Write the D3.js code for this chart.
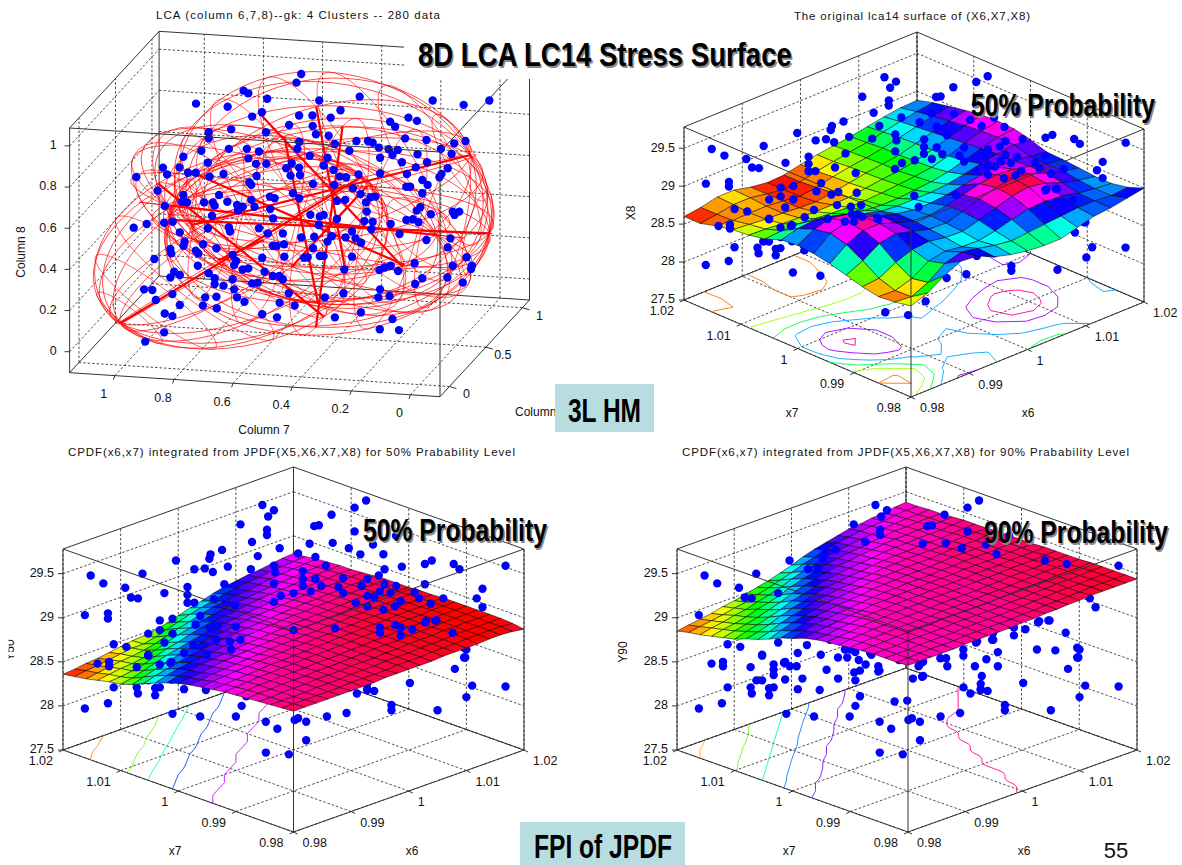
<!DOCTYPE html>
<html>
<head>
<meta charset="utf-8">
<script src="https://d3js.org/d3.v7.min.js"></script>
<style>
  html, body { margin: 0; background: #fff; }
  text { font-family: "Liberation Sans", Arial, sans-serif; fill: #111; }
  .big { font-family: "Liberation Sans Narrow", "Liberation Sans", sans-serif; font-weight: bold; }
</style>
</head>
<body>
<svg id="chart" width="1182" height="865"></svg>
<script>
const x6Ticks = [0.98, 0.99, 1, 1.01, 1.02];
const x7Ticks = [0.98, 0.99, 1, 1.01, 1.02];
const zTicks = [27.5, 28, 28.5, 29, 29.5];
const col7Ticks = [0, 0.2, 0.4, 0.6, 0.8, 1];
const col6Ticks = [0, 0.5, 1];
const col8Ticks = [0, 0.2, 0.4, 0.6, 0.8, 1];

// surface heights, hundredths above 28. rows run x7 = 1.02 -> 0.98, columns x6 = 0.98 -> 1.02
const surfaceLca = [
  [60,63,68,68,63,60,61,66,70,73,76,80,84,87,88],
  [60,63,67,67,63,60,61,66,70,74,77,82,87,91,94],
  [66,64,65,65,63,60,63,68,72,75,79,84,89,94,98],
  [70,68,66,65,63,62,65,69,73,76,79,85,91,97,102],
  [72,71,69,68,67,67,68,71,74,76,80,86,93,100,105],
  [76,78,78,76,74,73,73,74,76,78,81,87,95,102,106],
  [84,90,92,88,82,78,76,76,78,80,84,90,97,103,105],
  [86,98,104,100,92,86,84,84,84,86,90,95,99,102,100],
  [84,102,108,106,98,92,88,88,90,94,98,100,99,96,93],
  [80,96,106,106,98,92,90,94,99,105,108,106,101,95,92],
  [74,84,98,102,96,90,89,95,103,109,112,109,101,95,90],
  [68,70,82,90,92,88,87,93,100,107,110,106,98,92,88],
  [64,63,70,84,88,85,84,88,94,99,100,98,93,90,88],
  [66,64,74,90,96,92,87,84,86,88,90,92,92,90,92],
  [70,78,92,102,100,90,84,80,78,78,84,90,92,96,100]
];
const surface50 = [
  [36,37,39,40,42,44,46,47,49,52,56,60,63,67,70,72,74,75,77,79,80],
  [38,40,41,43,45,47,47,50,54,58,62,65,68,71,73,75,76,78,79,80,81],
  [40,42,44,46,47,49,52,56,60,63,67,70,72,74,75,77,79,80,81,82,83],
  [43,45,47,48,50,54,58,62,65,68,71,73,75,76,78,79,80,81,82,83,84],
  [46,47,49,52,56,60,63,67,70,72,74,75,77,79,80,81,82,83,84,84,85],
  [48,50,54,58,62,65,68,71,73,75,76,78,79,80,81,82,83,84,84,85,85],
  [52,56,60,63,67,70,72,74,75,77,79,80,81,82,83,84,84,85,85,86,86],
  [58,62,65,68,71,73,75,76,78,79,80,81,82,83,84,84,85,85,86,86,87],
  [63,67,70,72,74,75,77,79,80,81,82,83,84,84,85,85,86,86,87,87,88],
  [68,71,73,75,76,78,79,80,81,82,83,84,84,85,85,86,86,87,87,88,88],
  [72,74,75,77,79,80,81,82,83,84,84,85,85,86,86,87,87,88,88,88,88],
  [75,76,78,79,80,81,82,83,84,84,85,85,86,86,87,87,88,88,88,89,89],
  [77,79,80,81,82,83,84,84,85,85,86,86,87,87,88,88,88,89,89,89,89],
  [79,80,81,82,83,84,84,85,85,86,86,87,87,88,88,88,89,89,89,90,90],
  [81,82,83,84,84,85,85,86,86,86,87,87,88,88,88,89,89,89,90,90,90],
  [82,83,84,84,85,85,85,86,86,86,87,87,88,88,89,89,89,90,90,90,90],
  [83,84,84,85,85,85,86,86,86,87,87,88,88,88,89,89,89,90,90,90,90],
  [84,84,85,85,85,86,86,86,87,87,87,88,88,89,89,89,90,90,90,90,90],
  [85,85,85,85,86,86,86,87,87,87,88,88,88,89,89,89,90,90,90,90,90],
  [86,86,86,86,86,86,87,87,87,87,88,88,88,89,89,89,90,90,90,90,89],
  [87,87,87,87,87,87,87,87,88,88,88,88,88,89,89,89,89,90,90,89,87]
];
const surface90 = [
  [85,87,89,91,94,96,99,102,105,109,113,118,122,125,128,131,132,134,135,137,138],
  [88,90,92,94,97,99,103,106,110,114,119,122,126,129,131,133,134,135,137,138,138],
  [90,93,95,98,100,104,107,111,116,120,123,127,130,131,133,134,136,137,138,138,139],
  [93,96,98,101,105,108,112,117,121,124,128,130,132,133,135,136,138,138,139,139,139],
  [96,99,102,105,109,113,118,122,125,128,131,132,134,135,137,138,138,139,139,139,140],
  [99,103,106,110,114,119,122,126,129,131,133,134,135,137,138,138,139,139,139,140,141],
  [104,107,111,116,120,123,127,130,131,133,134,136,137,138,138,139,139,139,140,141,141],
  [108,112,117,121,124,128,130,132,133,135,136,138,138,139,139,139,139,140,141,141,141],
  [113,118,122,125,128,131,132,134,135,137,138,138,139,139,139,140,141,141,141,142,142],
  [119,122,126,129,131,133,134,135,137,138,138,139,139,139,140,141,141,141,141,142,142],
  [123,127,130,131,133,134,136,137,138,138,139,139,139,140,140,141,141,141,141,142,142],
  [128,130,132,133,135,136,138,138,139,139,139,140,140,140,141,141,141,141,142,142,142],
  [131,132,134,135,137,138,138,139,139,139,140,140,140,140,141,141,141,142,142,142,143],
  [133,134,135,137,138,138,139,139,139,140,140,140,140,141,141,141,142,142,142,143,143],
  [134,136,137,138,138,139,139,139,139,140,140,140,140,141,141,142,142,142,143,143,143],
  [136,137,138,138,139,139,139,139,140,140,140,140,141,141,141,142,142,143,143,143,143],
  [137,138,138,139,139,139,139,140,140,140,140,140,141,141,142,142,142,143,143,143,144],
  [138,138,138,139,139,139,139,140,140,140,140,140,141,141,142,142,143,143,143,144,144],
  [138,138,138,139,139,139,139,140,140,140,140,141,141,142,142,143,143,143,144,144,144],
  [138,138,139,139,139,139,140,140,140,140,140,141,141,142,142,143,143,144,144,144,144],
  [139,139,139,139,139,140,140,140,140,140,141,141,142,142,143,143,144,144,144,144,144]
];
const levelsLca = [64, 72, 80, 89, 100, 107];
const levels50 = [41, 50, 60, 70, 79];
const levels90 = [90, 100, 110, 120, 130, 140.5];

// test points as read on the mid plane of the box: [x6, height]
const cloud = [
[.9973,30.28],[.9978,30.15],[.9983,30.22],[.9954,30.06],[.9977,30.00],[.9977,29.94],[.9964,29.86],[.9988,29.79],[.9969,29.70],[.9938,29.77],
[.9928,29.72],[.9927,29.67],[.9923,29.56],[.9930,29.52],[.9943,29.58],[.9914,29.55],[.9898,29.65],[.9869,29.50],[.9824,29.48],[.9835,29.39],
[.9854,29.34],[.9859,29.23],[.9865,29.22],[.9888,29.28],[.9819,29.03],[.9839,29.05],[.9839,28.99],[.9908,29.35],[.9908,29.26],[.9908,29.17],
[.9914,29.17],[.9895,28.99],[.9884,28.97],[.9884,28.86],[.9874,28.82],[.9895,28.82],[.9844,28.70],[.9855,28.67],
[1.0018,30.04],[1.0022,30.05],[1.0033,30.17],[1.0053,30.25],[1.0063,30.33],[1.0053,29.98],[1.0089,29.93],[1.0014,29.84],[1.0034,29.85],[1.0048,29.79],
[1.0069,29.83],[1.0058,29.72],[1.0078,29.72],[1.0019,29.69],[1.0004,29.73],[1.0028,29.59],[1.0094,29.58],[1.0079,29.55],[1.0114,29.61],[1.0120,29.65],
[1.0139,29.61],[1.0144,29.55],[1.0184,29.59],[1.0114,29.38],[1.0164,29.33],[1.0159,29.22],[1.0164,29.12],[.9983,29.59],[.9984,29.52],[.9963,29.55],
[.9983,29.39],[1.0008,29.53],[1.0008,29.44],[1.0019,29.44],[1.0008,29.36],[1.0015,29.30],[1.0000,29.28],[.9989,29.25],[.9983,29.18],[1.0024,29.36],
[1.0039,29.35],[1.0043,29.45],[1.0064,29.44],[1.0059,29.36],[1.0074,29.48],[1.0079,29.38],[1.0089,29.36],[1.0075,29.30],[1.0084,29.28],[1.0105,29.29],
[1.0043,29.28],[1.0064,29.25],[1.0054,29.17],[1.0070,29.23],[1.0064,29.13],[1.0078,29.09],[1.0088,29.13],[1.0093,29.19],[1.0109,29.22],[1.0119,29.16],[1.0130,29.22],
[1.0115,28.96],[1.0124,28.97],[1.0088,28.92],[1.0093,28.89],[1.0075,28.89],[1.0075,28.83],[1.0075,28.75],[1.0061,28.73],[1.0036,28.88],[1.0031,28.67],
[1.0000,28.86],[1.0004,28.73],[.9984,28.58],[.9993,28.52],[1.0011,28.47],[1.0014,28.34],[.9976,28.40],[.9968,28.60],[1.0065,28.34],
[.9940,29.38],[.9949,29.14],[.9931,29.21],[.9915,28.92],[.9919,29.02],[.9928,28.88],[.9934,28.91],[.9950,28.90],[.9933,28.75],[.9945,28.73],
[.9913,28.69],[.9925,28.58],[.9905,28.60],[.9884,28.41],[.9874,28.57],[.9888,28.72],[.9894,28.50],[.9954,28.75],[.9951,28.64],
[.9844,28.21],[.9864,28.21],[.9865,28.14],[.9880,28.20],[.9880,28.12],[.9884,28.21],[.9905,28.19],[.9924,28.18],[.9959,28.11],[.9895,27.91],
[.9919,27.88],[.9950,27.88],[.9955,28.00],[.9976,27.82],[.9986,27.74],[.9976,27.47],[.9996,27.45],[1.0011,27.82],[1.0011,27.61],[1.0004,27.86],
[1.0001,27.84],[1.0029,27.88],[1.0046,27.92],[1.0055,28.14],[1.0064,28.19],[1.0070,28.17],[1.0085,28.01],[1.0085,27.95],[1.0125,27.95],[1.0150,28.10],
[1.0155,28.23],[1.0184,28.22],[1.0140,28.42],[1.0149,28.55],[1.0150,28.64],[1.0101,28.26],[.9819,27.97],[.9839,28.03],
[.9830,28.48],[.9840,28.50],[.9840,28.45],[.9874,28.58],[.9864,28.44],[.9884,28.47],[.9884,28.35],[.9893,28.49],[.9898,28.45],[.9904,28.45],
[.9940,28.55],[.9930,28.41],[.9940,28.31],[.9948,28.55],[.9946,28.64],[.9955,28.61],[.9958,28.52],[.9964,28.47],[.9954,28.38],[.9959,28.40],
[.9955,28.29],[.9975,28.45],[.9975,28.39],[.9969,28.58],[1.0005,28.31],[1.0013,28.33],[1.0010,28.45],[1.0014,28.50],[1.0029,28.54],[1.0034,28.54],
[1.0035,28.45],[1.0049,28.57],[1.0049,28.64],[1.0059,28.45],[1.0069,28.53],[1.0079,28.45],[1.0079,28.61],[1.0060,28.72],[1.0074,28.75],[1.0093,28.80],
[1.0103,28.87],[1.0114,28.95],[1.0123,28.97],[1.0138,28.83],[1.0113,28.64],[1.0129,28.63],[1.0148,28.66],[1.0148,28.55],[1.0064,28.25],[1.0064,28.18],
[1.0049,28.21],[.9869,28.29],[.9874,28.29],[.9894,28.30],[.9909,28.31],[.9989,28.05],[1.0000,28.06]
];

// LCA scatter: [column 7, column 8]
const lcaPoints = [
[.369,1.350],[.385,1.308],[.564,1.269],[.548,1.256],[.484,1.230],[.725,1.206],[.618,1.191],[.171,1.240],[.308,1.221],[-.076,1.221],[-.181,1.200],[-.268,1.221],
[.236,1.174],[.502,1.164],[.535,1.143],[.376,1.148],[.331,1.148],[.269,1.138],[.068,1.118],[.006,1.138],[-.023,1.122],[.051,1.094],[.410,1.102],[.330,1.097],
[.606,1.081],[.488,1.067],[.682,1.067],[.319,1.057],[.276,1.050],[.682,1.037],[.017,1.037],[-.055,1.029],[-.187,1.024],[-.149,1.013],[.376,1.021],[.255,1.010],
[.182,1.024],[.143,1.024],[.127,1.016],[.106,.992],[.073,.984],[.042,.981],[-.104,.986],[.614,.986],[.707,.977],[.553,.986],[.512,.973],[.382,.986],[.206,.977],
[-.140,.961],[-.025,.960],[.060,.956],[.768,.948],[.548,.940],[.340,.953],[.280,.943],[.102,.943],[.028,.921],[-.057,.921],[.685,.919],[.522,.913],[.487,.913],
[.401,.916],[.420,.892],[.376,.895],[.293,.905],[.260,.883],[-.019,.896],[-.127,.892],[.837,.895],[.781,.896],[.823,.862],[.752,.870],[.726,.870],[.632,.864],
[.520,.854],[.679,.851],[.405,.856],[.373,.859],[.238,.851],[.217,.848],[.175,.862],[.102,.867],[.011,.864],[-.106,.864],[-.099,.848],[-.041,.835],[-.059,.811],
[.927,.849],[.545,.823],[.329,.815],[.257,.811],[.194,.794],[.013,.802],[0,.802],[-.041,.770],[.855,.783],[.538,.811],[.647,.762],[.475,.754],[.459,.746],[.397,.770],
[.376,.746],[.168,.767],[.134,.751],[.118,.754],[.768,.762],[.773,.729],[.755,.726],[.698,.726],[.668,.726],[.619,.729],[.538,.738],[.248,.733],[.220,.738],[.150,.726],
[.831,.708],[.662,.710],[.586,.713],[.567,.705],[.527,.705],[.474,.694],[-.034,.702],[-.022,.686],[-.144,.681],[-.166,.681],[-.150,.665],[-.070,.668],[.147,.681],
[.583,.686],[.338,.666],[.306,.657],[.293,.665],[.671,.661],[.936,.603],[.892,.621],[.833,.627],[.804,.632],[.310,.616],[.248,.645],[.464,.648],[.013,.640],[-.009,.644],
[-.028,.629],[.155,.635],[.127,.632],[.131,.595],[.066,.621],[.685,.600],[.614,.605],[.512,.600],[.610,.584],[.780,.580],[.431,.575],[.482,.575],[.197,.584],[.036,.572],
[.325,.559],[.369,.556],[.265,.562],[.219,.556],[.185,.551],[.166,.530],[.280,.535],[-.055,.543],[-.136,.551],[-.127,.507],[.764,.535],[.767,.515],[.701,.522],[.656,.503],
[.812,.499],[.809,.478],[.726,.491],[.717,.478],[.465,.515],[.452,.514],[.427,.522],[.329,.503],[.601,.470],[.866,.451],[.426,.462],[.501,.457],[.359,.457],[.347,.459],
[.306,.465],[.293,.465],[.197,.462],[-.191,.459],[-.015,.430],[-.144,.418],[-.209,.418],[-.206,.402],[.589,.441],[.596,.421],[.719,.418],[.223,.400],[.066,.418],[.087,.409],
[.104,.397],[.041,.392],[-.041,.357],[-.017,.329],[-.126,.361],[-.178,.336],[.799,.389],[.812,.361],[.780,.373],[.682,.381],[.567,.400],[.548,.405],[.493,.389],[.465,.368],
[.443,.368],[.431,.352],[.662,.357],[.601,.352],[.662,.329],[.632,.321],[.535,.332],[.516,.336],[.596,.303],[.411,.284],[.901,.303],[.873,.300],[.805,.280],[.861,.251],
[.694,.264],[.656,.267],[.586,.264],[.561,.243],[.289,.264],[.226,.284],[.102,.303],[.108,.264],[.070,.271],[.780,.227],[.702,.224],[.655,.211],[.442,.238],[.391,.224],
[.831,.186],[.805,.173],[.501,.182],[.451,.167],[.255,.167],[.167,.191],[.060,.159],[.103,.109],[.038,.105],[.833,.094],[.897,.049]
];

// four clusters: centre and three axis ends, each as [column 7, column 8]
const clusterCentres = [[.573,.494],[.268,.786],[.274,.608],[.369,.640]];
const clusterAxisA = [[.981,.138],[-.204,.956],[-.268,.575],[.828,.713]];
const clusterAxisB = [[.854,.818],[.510,1.159],[.229,1.097],[.019,.421]];
const clusterAxisC = [[.497,.543],[.318,1.191],[.401,.413],[.312,.235]];

const svg = d3.select("#chart");

function makeProjection(box, aScale, bScale, zDomain) {
  // affine view: a runs to the left corner, b to the right corner, z straight up
  const aX = d3.scaleLinear(aScale, [0, box.left[0] - box.front[0]]);
  const aY = d3.scaleLinear(aScale, [0, box.left[1] - box.front[1]]);
  const bX = d3.scaleLinear(bScale, [0, box.right[0] - box.front[0]]);
  const bY = d3.scaleLinear(bScale, [0, box.right[1] - box.front[1]]);
  const zY = d3.scaleLinear(zDomain, [0, -box.height]);
  return (a, b, z) => [box.front[0] + aX(a) + bX(b), box.front[1] + aY(a) + bY(b) + zY(z)];
}

function line(g, p, q, cls) {
  const l = g.append("line").attr("x1", p[0]).attr("y1", p[1]).attr("x2", q[0]).attr("y2", q[1]);
  if (cls === "grid") l.attr("stroke", "#222").attr("stroke-width", 0.8).attr("stroke-dasharray", "2.5,2");
  else l.attr("stroke", "#333").attr("stroke-width", 1);
  return l;
}

function drawBack(g, pr, A, B, Z) {
  const [a0, a1] = A.domain, [b0, b1] = B.domain, [z0, z1] = Z.domain;
  A.ticks.forEach(t => {
    line(g, pr(t, b0, z0), pr(t, b1, z0), "grid");
    line(g, pr(t, b1, z0), pr(t, b1, z1), "grid");
    const p = pr(t, b0, z0);
    line(g, p, [p[0] + A.mark[0], p[1] + A.mark[1]]);
  });
  B.ticks.forEach(t => {
    line(g, pr(a0, t, z0), pr(a1, t, z0), "grid");
    line(g, pr(a1, t, z0), pr(a1, t, z1), "grid");
    const p = pr(a0, t, z0);
    line(g, p, [p[0] + B.mark[0], p[1] + B.mark[1]]);
  });
  Z.ticks.forEach(t => {
    line(g, pr(a1, b0, t), pr(a1, b1, t), "grid");
    line(g, pr(a1, b1, t), pr(a0, b1, t), "grid");
    const p = pr(a1, b0, t);
    line(g, p, [p[0] - 5, p[1]]);
  });
  // far edges of the box
  [[[a1, b0, z0], [a1, b1, z0]], [[a1, b1, z0], [a0, b1, z0]], [[a1, b1, z0], [a1, b1, z1]],
   [[a1, b0, z1], [a1, b1, z1]], [[a1, b1, z1], [a0, b1, z1]],
   [[a0, b0, z0], [a1, b0, z0]], [[a0, b0, z0], [a0, b1, z0]],
   [[a1, b0, z0], [a1, b0, z1]], [[a0, b1, z0], [a0, b1, z1]]]
    .forEach(e => line(g, pr(...e[0]), pr(...e[1])));
}

function drawFront(g, pr, A, B, Z) {
  const [a0, a1] = A.domain, [b0, b1] = B.domain, [z0, z1] = Z.domain;
  [[[a0, b0, z0], [a0, b0, z1]], [[a0, b0, z1], [a1, b0, z1]], [[a0, b0, z1], [a0, b1, z1]]]
    .forEach(e => line(g, pr(...e[0]), pr(...e[1])));
}

function drawLabels(g, pr, A, B, Z, zRight) {
  const [a0, a1] = A.domain, [b0, b1] = B.domain;
  const z0 = Z.domain[0];
  const txt = (p, s, anchor) => g.append("text").attr("x", p[0]).attr("y", p[1]).attr("dy", "0.35em")
    .attr("text-anchor", anchor).attr("font-size", 12.5).text(s);
  A.ticks.forEach(t => {
    const p = pr(t, b0, z0);
    txt([p[0] + A.off[0], p[1] + A.off[1]], String(t), A.anchor);
  });
  B.ticks.forEach(t => {
    const p = pr(a0, t, z0);
    txt([p[0] + B.off[0], p[1] + B.off[1]], String(t), B.anchor);
  });
  Z.ticks.forEach(t => {
    const p = pr(a1, b0, t);
    txt([p[0] - zRight, p[1] - 1], String(t), "end");
  });
}

// ---- the three surface panels share the same test points
function placeCloud(d) {
  // a single reading cannot give depth, so high points are pushed to the back of the box
  const u = (d[0] - 1) / 0.02;
  const up = 88 * (d[1] - 27.5);
  const t = (up - 100) / 250 * (1 - Math.abs(u));
  return {
    x6: 0.98 + 0.04 * (u + t + 1) / 2,
    x7: 0.98 + 0.04 * (t - u + 1) / 2,
    z: d[1] - 82 * t / 88
  };
}
const placed = cloud.map(placeCloud);

function surfacePanel(cfg) {
  const g = svg.append("g");
  const heights = cfg.surface, n = heights.length;
  const A = { domain: [0.98, 1.02], ticks: x7Ticks, mark: [-4, 2], off: [-10, 11], anchor: "end" };
  const B = { domain: [0.98, 1.02], ticks: x6Ticks, mark: [4, 2], off: [9, 11], anchor: "start" };
  const Z = { domain: [27.5, 29.78], ticks: zTicks };
  const pr = makeProjection(cfg.box, A.domain, B.domain, Z.domain);
  const hue = d3.scaleLinear(cfg.hueRange, [0, 1]).clamp(true);
  const colour = v => d3.hsl(hue(v) * 360, 1, 0.5).toString();
  const x7At = r => 1.02 - 0.04 * r / (n - 1);
  const x6At = c => 0.98 + 0.04 * c / (n - 1);
  const zAt = v => 28 + v / 100;

  drawBack(g, pr, A, B, Z);

  // floor contours from the same heights, box-edge stretches left out
  const contourLine = d3.line().curve(cfg.curve);
  const contours = d3.contours().size([n, n]).thresholds(cfg.levels)(heights.flat());
  contours.forEach(c => {
    c.coordinates.forEach(poly => poly.forEach(ring => {
      let run = [];
      const flush = () => {
        if (run.length > 1) {
          g.append("path").attr("d", contourLine(run)).attr("fill", "none")
            .attr("stroke", colour(c.value)).attr("stroke-width", 0.9);
        }
        run = [];
      };
      ring.forEach(pt => {
        const edge = pt[0] <= 0 || pt[0] >= n || pt[1] <= 0 || pt[1] >= n;
        if (edge) flush();
        else run.push(pr(x7At(pt[1] - 0.5), x6At(pt[0] - 0.5), 27.5));
      });
      flush();
    }));
  });

  const isAbove = p => {
    const c = Math.max(0, Math.min(n - 1, Math.round((p.x6 - 0.98) / 0.04 * (n - 1))));
    const r = Math.max(0, Math.min(n - 1, Math.round((1.02 - p.x7) / 0.04 * (n - 1))));
    return p.z > zAt(heights[r][c]) - cfg.slack;
  };
  const dots = (list) => g.append("g").selectAll("circle").data(list).join("circle")
    .attr("cx", p => pr(p.x7, p.x6, p.z)[0]).attr("cy", p => pr(p.x7, p.x6, p.z)[1])
    .attr("r", 4.2).attr("fill", "#0000ff");

  dots(placed.filter(p => !isAbove(p)));

  // painter's order, far corner first
  const cells = [];
  for (let r = 0; r < n - 1; r++) for (let c = 0; c < n - 1; c++) cells.push({ r, c, depth: c - r });
  cells.sort((a, b) => b.depth - a.depth);
  g.append("g").selectAll("path").data(cells).join("path")
    .attr("d", ({ r, c }) => {
      const corners = [[r, c], [r, c + 1], [r + 1, c + 1], [r + 1, c]]
        .map(([i, j]) => pr(x7At(i), x6At(j), zAt(heights[i][j])));
      return "M" + corners.join("L") + "Z";
    })
    .attr("fill", ({ r, c }) => colour((heights[r][c] + heights[r][c + 1] + heights[r + 1][c + 1] + heights[r + 1][c]) / 4))
    .attr("stroke", "#000").attr("stroke-width", 0.6).attr("stroke-opacity", 0.85);

  dots(placed.filter(isAbove));
  drawFront(g, pr, A, B, Z);
  drawLabels(g, pr, A, B, Z, 9);
}

surfacePanel({
  surface: surfaceLca, levels: levelsLca, hueRange: [60, 112], slack: 0.18, curve: d3.curveLinear,
  box: { front: [911, 397], left: [684, 300], right: [1144, 302], height: 173 }
});
surfacePanel({
  surface: surface50, levels: levels50, hueRange: [36, 90], slack: 0.15, curve: d3.curveBasis,
  box: { front: [293.5, 832], left: [63, 750], right: [524, 750], height: 201 }
});
surfacePanel({
  surface: surface90, levels: levels90, hueRange: [83, 146], slack: -0.08, curve: d3.curveBasis,
  box: { front: [908, 832], left: [677, 750], right: [1137, 750], height: 201 }
});

// ---- LCA panel
{
  const g = svg.append("g");
  const A = { domain: [-0.1, 1.153], ticks: col7Ticks, mark: [-1.5, 4], off: [-11, 18], anchor: "middle" };
  const B = { domain: [-0.129, 1.098], ticks: col6Ticks, mark: [7, 2], off: [17, 7.5], anchor: "middle" };
  const Z = { domain: [-0.102, 1.087], ticks: col8Ticks };
  const pr = makeProjection({ front: [440, 396.7], left: [69.6, 372.7], right: [529.5, 300], height: 244.7 }, A.domain, B.domain, Z.domain);
  drawBack(g, pr, A, B, Z);

  // points and clusters are read flat against the tick scales
  const sx = d3.scaleLinear([0, 1], [410.2, 114.8]);
  const sy = d3.scaleLinear([0, 1], [351.7, 146]);
  const red = g.append("g").attr("fill", "none").attr("stroke", "#ff0000");
  const curve = d3.line().x(d => sx(d[0])).y(d => sy(d[1]));

  clusterCentres.forEach((c, k) => {
    const a = [clusterAxisA[k][0] - c[0], clusterAxisA[k][1] - c[1]];
    const b = [clusterAxisB[k][0] - c[0], clusterAxisB[k][1] - c[1]];
    const e = [clusterAxisC[k][0] - c[0], clusterAxisC[k][1] - c[1]];
    const at = (th, ph) => [0, 1].map(i =>
      c[i] + a[i] * Math.cos(th) + Math.sin(th) * (b[i] * Math.cos(ph) + e[i] * Math.sin(ph)));
    // meridians pole to pole
    d3.range(0, 16).forEach(m => {
      const ph = m * Math.PI / 8;
      red.append("path").attr("d", curve(d3.range(0, 33).map(s => at(s * Math.PI / 32, ph))))
        .attr("stroke-width", 0.7);
    });
    // parallels
    d3.range(1, 8).forEach(m => {
      const th = m * Math.PI / 8;
      red.append("path").attr("d", curve(d3.range(0, 41).map(s => at(th, s * Math.PI / 20))))
        .attr("stroke-width", 0.6);
    });
    // principal axes
    [a, b, e].forEach(v => {
      red.append("path").attr("d", curve([[c[0] - v[0], c[1] - v[1]], [c[0] + v[0], c[1] + v[1]]]))
        .attr("stroke-width", 2.2);
    });
  });

  g.append("g").selectAll("circle").data(lcaPoints).join("circle")
    .attr("cx", d => sx(d[0])).attr("cy", d => sy(d[1])).attr("r", 4.2).attr("fill", "#0000ff");
  drawFront(g, pr, A, B, Z);
  drawLabels(g, pr, A, B, Z, 13);
}

// ---- titles and axis names
const note = (x, y, s, size, opts = {}) => {
  const t = svg.append("text").attr("x", x).attr("y", y).attr("font-size", size)
    .attr("text-anchor", opts.anchor || "start").text(s);
  if (opts.len) t.attr("textLength", opts.len).attr("lengthAdjust", "spacing");
  if (opts.rotate) t.attr("transform", `rotate(-90,${x},${y})`);
  return t;
};
note(156, 19, "LCA  (column 6,7,8)--gk: 4 Clusters -- 280 data", 11.5, { len: 284 });
note(794, 20, "The original lca14 surface of (X6,X7,X8)", 11.5, { len: 236 });
note(68, 456, "CPDF(x6,x7) integrated from JPDF(X5,X6,X7,X8) for 50% Prabability Level", 11.5, { len: 447 });
note(682, 456, "CPDF(x6,x7) integrated from JPDF(X5,X6,X7,X8) for 90% Prabability Level", 11.5, { len: 447 });

note(264, 434, "Column 7", 12, { anchor: "middle" });
note(515, 416, "Column 6", 12);
note(25, 252, "Column 8", 12, { anchor: "middle", rotate: true });
note(635, 213, "X8", 12, { anchor: "middle", rotate: true });
note(792, 417, "x7", 12, { anchor: "middle" });
note(1028, 417, "x6", 12, { anchor: "middle" });
note(14, 650, "Y50", 12, { anchor: "middle", rotate: true });
note(627, 652, "Y90", 12, { anchor: "middle", rotate: true });
note(175, 855, "x7", 12, { anchor: "middle" });
note(412, 855, "x6", 12, { anchor: "middle" });
note(789, 855, "x7", 12, { anchor: "middle" });
note(1024, 855, "x6", 12, { anchor: "middle" });
svg.append("rect").attr("x", 0).attr("y", 630).attr("width", 8.5).attr("height", 40).attr("fill", "#fff");

// ---- slide overlays
svg.append("rect").attr("x", 404).attr("y", 38).attr("width", 393).attr("height", 41).attr("fill", "#fff");
svg.append("rect").attr("x", 555).attr("y", 384).attr("width", 99).attr("height", 48).attr("fill", "#b7dde0");
svg.append("rect").attr("x", 520).attr("y", 822).attr("width", 165).attr("height", 43).attr("fill", "#b7dde0");

// the slide headings are condensed to the measured width
const bigText = (x, y, s, size, len, shadow) => {
  const put = (dx, colour) => {
    const t = svg.append("text").attr("class", "big").attr("font-size", size).style("fill", colour).text(s);
    const k = len / t.node().getComputedTextLength();
    t.attr("transform", `translate(${x + dx},${y + dx}) scale(${k},1)`);
  };
  if (shadow) put(1.5, "#888");
  put(0, "#000");
};
bigText(418, 66, "8D LCA LC14 Stress Surface", 33, 374, true);
bigText(971, 116, "50% Probability", 32, 184, true);
bigText(363, 541, "50% Probability", 32, 184, true);
bigText(984, 543, "90% Probability", 32, 184, true);
bigText(568, 422, "3L HM", 33, 73, false);
bigText(534, 858, "FPI of JPDF", 33, 138, false);
note(1116, 858, "55", 22, { anchor: "middle" });
</script>
</body>
</html>
